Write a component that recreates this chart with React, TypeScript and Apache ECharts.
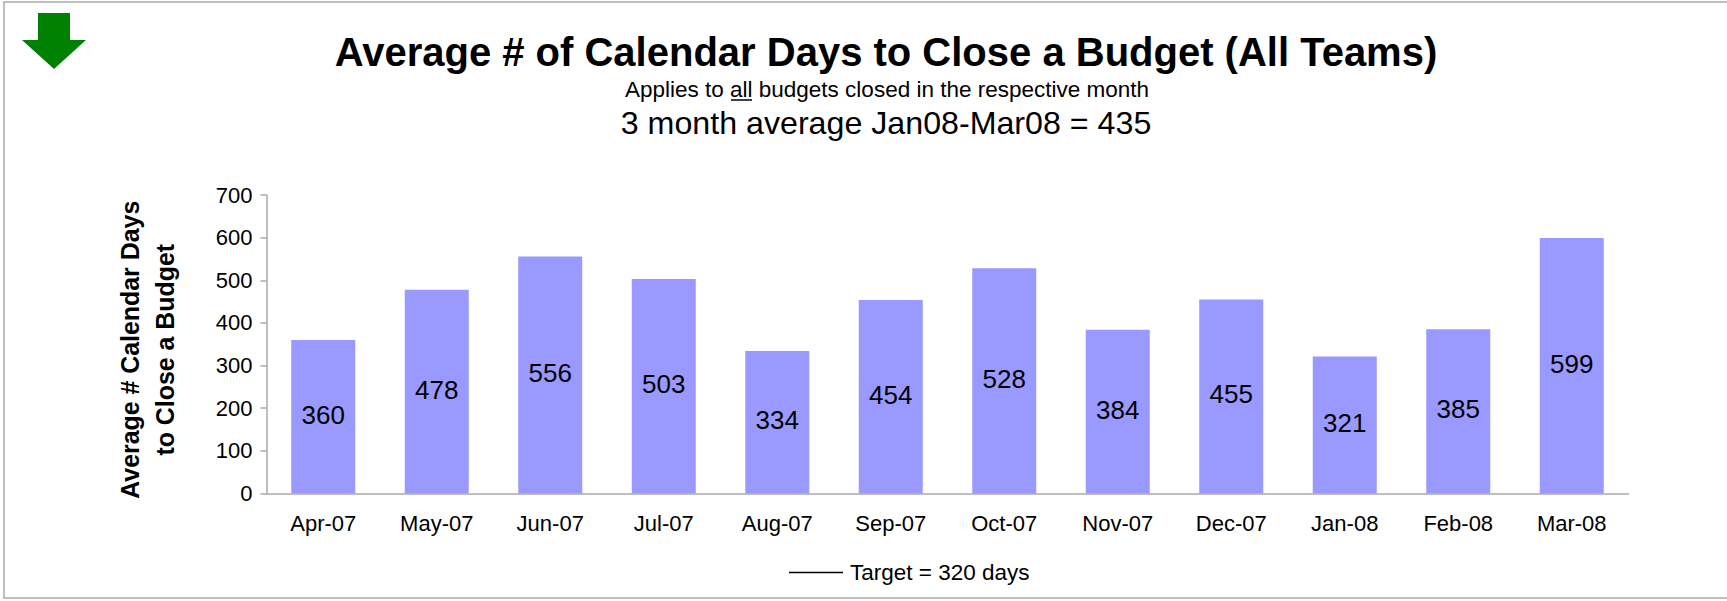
import React, { useEffect, useRef } from "react";
import * as echarts from "echarts";

const categories = ["Apr-07","May-07","Jun-07","Jul-07","Aug-07","Sep-07","Oct-07","Nov-07","Dec-07","Jan-08","Feb-08","Mar-08"];
const values = [360,478,556,503,334,454,528,384,455,321,385,599];
const yTicks = { min: 0, max: 700, interval: 100 };
const titleText = "Average # of Calendar Days to Close a Budget (All Teams)";
const subtitleText = "Applies to all budgets closed in the respective month";
const averageText = "3 month average Jan08-Mar08 = 435";
const targetName = "Target = 320 days";
const yName = "Average # Calendar Days\nto Close a Budget";
const font = "Liberation Sans";

export default function App() {
  const ref = useRef<HTMLDivElement>(null);
  useEffect(() => {
    const chart = echarts.init(ref.current!, null, { renderer: "svg" });
    chart.setOption({
      animation: false,
      backgroundColor: "#fff",
      textStyle: { fontFamily: font },
      title: [
        { text: titleText, left: 881, top: 27, textAlign: "center", textStyle: { fontFamily: font, fontSize: 40, fontWeight: "bold", color: "#000" } },
        { text: subtitleText, left: 882, top: 73, textAlign: "center", textStyle: { fontFamily: font, fontSize: 22.5, fontWeight: "normal", color: "#000" } },
        { text: averageText, left: 881, top: 102, textAlign: "center", textStyle: { fontFamily: font, fontSize: 32.2, fontWeight: "normal", color: "#000" } },
      ],
      legend: {
        data: [{ name: targetName, icon: "rect" }],
        left: 784, top: 556, itemWidth: 54, itemHeight: 1.5, itemGap: 5,
        textStyle: { fontFamily: font, fontSize: 22.5, color: "#000", padding: [0, 0, 0, 2] },
      },
      grid: { left: 266.5, right: 98.5, top: 195, bottom: 107.5, containLabel: false },
      xAxis: {
        type: "category", data: categories,
        axisLine: { lineStyle: { color: "#aaa", width: 1.5 } },
        axisTick: { length: 6, lineStyle: { color: "#aaa", width: 1.5 } },
        axisLabel: { fontFamily: font, fontSize: 22, color: "#000", margin: 19 },
      },
      yAxis: {
        type: "value", ...yTicks,
        name: yName, nameLocation: "middle", nameGap: 84, nameRotate: 90,
        nameTextStyle: { fontFamily: font, fontSize: 24.9, fontWeight: "bold", color: "#000", lineHeight: 35, padding: [0, 11, 0, 0] },
        splitLine: { show: false },
        axisLine: { show: true, lineStyle: { color: "#aaa", width: 1.5 } },
        axisTick: { show: true, length: 6, lineStyle: { color: "#aaa", width: 1.5 } },
        axisLabel: { fontFamily: font, fontSize: 22, color: "#000", margin: 14 },
      },
      series: [
        {
          type: "bar", name: "Days", data: values, barWidth: 64,
          itemStyle: { color: "#9999ff" },
          label: { show: true, position: "inside", offset: [0, -2], fontFamily: font, fontSize: 26, color: "#000" },
        },
        { type: "line", name: targetName, data: [], lineStyle: { color: "#000", width: 2 }, itemStyle: { color: "#000" }, showSymbol: false },
      ],
      graphic: [
        { type: "rect", shape: { x: 4, y: 2, width: 1730, height: 596 }, style: { fill: "none", stroke: "#aaa", lineWidth: 1.5 }, silent: true },
        { type: "polygon", shape: { points: [[38,13],[70,13],[70,40],[86,40],[54,69],[22,40],[38,40]] }, style: { fill: "#008000" } },
        { type: "line", shape: { x1: 731, y1: 100, x2: 752, y2: 100 }, style: { stroke: "#000", lineWidth: 1.5 } },
      ],
    });
    return () => chart.dispose();
  }, []);
  return <div ref={ref} style={{ position: "fixed", left: 0, top: 0, width: 1727, height: 601 }} />;
}
